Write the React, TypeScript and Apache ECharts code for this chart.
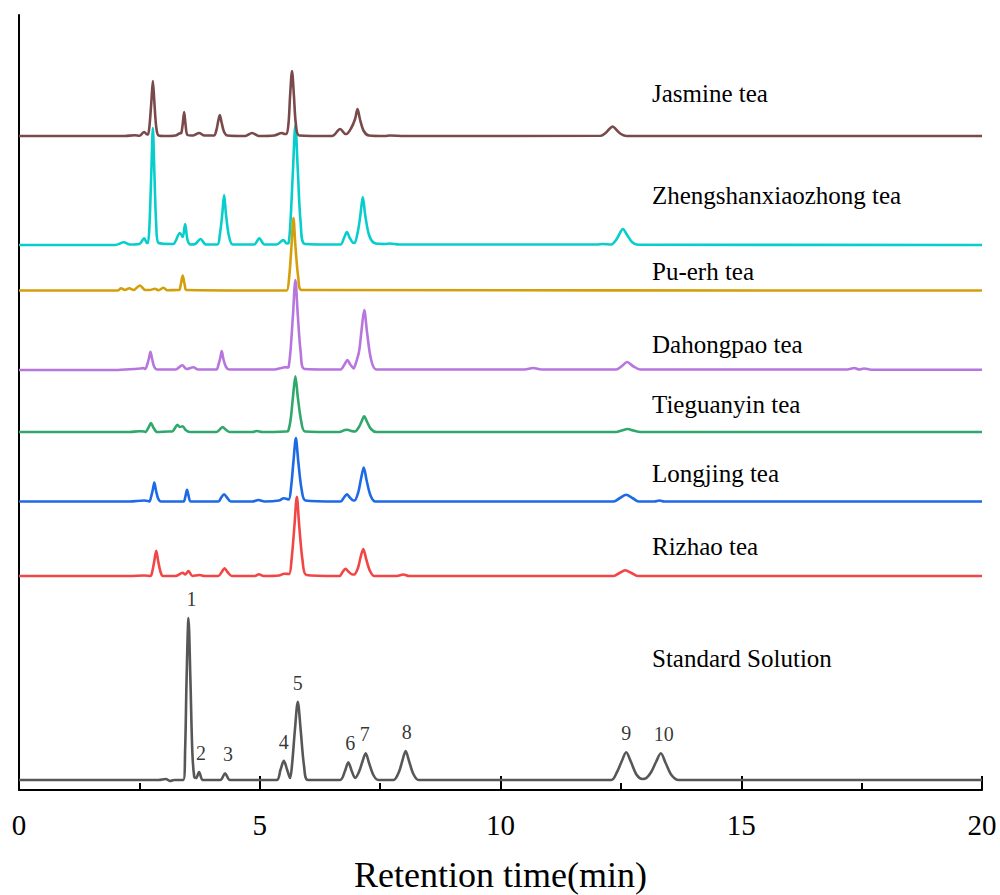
import React, { useEffect, useRef } from "react";
import * as echarts from "echarts";

// Retention time (min) vs detector response (arbitrary units, relative to each trace's baseline)
const standardSolution: [number, number][] = [
  [0, 0], [2.9, 0], [3.05, 1], [3.14, -1], [3.22, 0],
  [3.41, 0], [3.45, 30], [3.48, 100], [3.52, 162], [3.56, 100], [3.6, 28], [3.64, 3],
  [3.68, 2], [3.74, 8], [3.82, 0],
  [4.18, 0], [4.28, 6.7], [4.38, 0],
  [5.35, 0], [5.43, 10], [5.5, 19.3], [5.57, 10], [5.63, 2],
  [5.67, 15], [5.73, 50], [5.79, 78.3], [5.85, 50], [5.92, 14], [6.0, 0],
  [6.67, 0], [6.77, 9], [6.84, 17.7], [6.91, 9], [6.98, 2],
  [7.06, 8], [7.13, 18], [7.2, 26.7], [7.27, 17], [7.36, 5], [7.46, 0],
  [7.78, 0], [7.89, 8], [7.96, 19], [8.03, 29], [8.1, 19], [8.19, 6], [8.3, 0],
  [12.3, 0], [12.42, 8], [12.52, 19], [12.61, 27.7], [12.71, 18], [12.83, 5], [12.95, 1],
  [13.03, 2], [13.13, 8], [13.23, 18], [13.33, 26.7], [13.43, 17], [13.55, 5], [13.7, 0],
  [20, 0],
];

const rizhaoTea: [number, number][] = [
  [0, 0], [2.3, 0], [2.6, 0.5],
  [2.73, 0], [2.77, 5], [2.81, 15], [2.85, 25.3], [2.89, 15], [2.94, 4], [2.99, 0],
  [3.25, 0], [3.4, 3.3], [3.45, 1.5], [3.52, 5], [3.6, 0], [3.75, 1], [3.85, 0],
  [4.14, 0], [4.21, 4], [4.27, 7.7], [4.33, 4], [4.42, 0],
  [4.9, 0], [4.98, 1.8], [5.08, 0], [5.4, 0.5], [5.51, 2.3],
  [5.61, 2], [5.66, 16], [5.72, 50], [5.77, 79.3], [5.82, 50], [5.89, 15], [5.97, 1],
  [6.6, 0], [6.66, 0], [6.72, 4], [6.78, 7.3], [6.85, 4], [6.93, 1.5],
  [6.96, 1.5], [7.04, 8], [7.09, 18], [7.15, 27], [7.21, 17], [7.29, 5], [7.38, 0],
  [7.85, 0], [7.98, 1.5], [8.1, 0],
  [12.35, 0], [12.47, 3], [12.59, 5.7], [12.72, 3], [12.85, 0], [20, 0],
];

const longjingTea: [number, number][] = [
  [0, 0], [2.3, 0], [2.6, 1], [2.68, 0.5],
  [2.71, 0], [2.74, 4], [2.78, 12], [2.81, 19], [2.845, 11], [2.89, 3], [2.95, 0],
  [3.35, 0], [3.42, 0], [3.46, 6], [3.49, 11.7], [3.52, 6], [3.57, 0],
  [4.14, 0], [4.2, 4], [4.26, 7.3], [4.32, 4], [4.4, 0],
  [4.85, 0], [4.97, 1.5], [5.1, 0], [5.4, 1], [5.5, 3.3],
  [5.6, 2], [5.65, 14], [5.7, 40], [5.75, 63.4], [5.8, 40], [5.87, 12], [5.95, 1],
  [6.6, 0], [6.68, 0], [6.75, 4], [6.81, 7.3], [6.87, 4], [6.95, 1],
  [6.97, 1], [7.05, 10], [7.1, 22], [7.16, 34], [7.22, 21], [7.3, 6], [7.4, 0],
  [12.35, 0], [12.48, 3.5], [12.61, 6.7], [12.74, 3.5], [12.87, 0],
  [13.2, 0], [13.3, 1], [13.4, 0], [20, 0],
];

const tieguanyinTea: [number, number][] = [
  [0, 0], [2.3, 0], [2.5, 0.8], [2.6, 0.5],
  [2.62, 0], [2.69, 4.5], [2.74, 9], [2.79, 4.5], [2.87, 0],
  [3.12, 0.5], [3.18, 0.5], [3.24, 4], [3.29, 7.3], [3.34, 5], [3.4, 5.7], [3.46, 2], [3.55, 0],
  [4.1, 0], [4.17, 2.5], [4.23, 5], [4.29, 2.5], [4.38, 0],
  [4.85, 0], [4.94, 1], [5.05, 0], [5.55, 0.5],
  [5.59, 1], [5.64, 12], [5.69, 35], [5.74, 55.7], [5.79, 35], [5.86, 11], [5.94, 0.5],
  [6.65, 0], [6.77, 2], [6.82, 2.3], [6.9, 1],
  [6.98, 0.5], [7.06, 5], [7.11, 10], [7.17, 15.7], [7.23, 10], [7.31, 3], [7.42, 0],
  [12.4, 0], [12.52, 1.5], [12.64, 3], [12.76, 1.5], [12.9, 0], [20, 0],
];

const dahongpaoTea: [number, number][] = [
  [0, 0], [2.0, 0], [2.4, 1], [2.52, 1.5], [2.58, 2],
  [2.62, 1], [2.66, 5], [2.7, 12], [2.73, 18.3], [2.765, 11], [2.81, 3], [2.87, 0.5],
  [3.25, 0.5], [3.39, 4.7], [3.48, 1], [3.62, 2.7], [3.72, 0.5],
  [4.1, 0.5], [4.14, 5], [4.18, 12], [4.21, 19], [4.245, 11], [4.3, 3], [4.37, 0.5],
  [5.3, 0.5], [5.45, 2], [5.52, 2.7], [5.58, 2.5],
  [5.6, 3], [5.64, 20], [5.69, 55], [5.74, 90], [5.79, 55], [5.85, 18], [5.93, 1],
  [6.6, 0.5], [6.68, 0.5], [6.76, 5.5], [6.82, 10], [6.88, 5.5], [6.96, 1.5],
  [6.97, 1.5], [7.06, 18], [7.11, 38], [7.17, 60], [7.23, 37], [7.31, 11], [7.42, 0.5],
  [10.5, 0.5], [10.68, 2], [10.85, 0.5],
  [12.4, 0.5], [12.52, 4], [12.63, 8], [12.75, 4], [12.9, 0.5],
  [17.2, 0.5], [17.35, 2], [17.45, 0.5], [17.55, 1.5], [17.7, 0.3], [20, 0.3],
];

const zhengshanxiaozhongTea: [number, number][] = [
  [0, 0], [2.0, 0], [2.18, 2.7], [2.3, 0.5], [2.5, 1],
  [2.6, 6.7], [2.66, 2],
  [2.68, 2], [2.71, 20], [2.75, 75], [2.78, 117], [2.81, 75], [2.85, 20], [2.9, 2],
  [3.2, 1], [3.34, 12], [3.4, 8], [3.45, 21], [3.5, 5], [3.56, 0.5], [3.66, 1], [3.77, 6], [3.88, 0.5],
  [4.12, 0.5], [4.17, 10], [4.22, 30], [4.26, 50], [4.3, 30], [4.36, 9], [4.44, 0.5],
  [4.88, 0.5], [4.99, 6.7], [5.1, 0.5], [5.35, 0.5], [5.49, 5], [5.56, 1.5],
  [5.6, 2], [5.64, 25], [5.69, 75], [5.74, 120], [5.79, 75], [5.85, 22], [5.94, 1],
  [6.6, 0.5], [6.68, 0.5], [6.75, 7], [6.81, 13], [6.87, 7], [6.95, 2],
  [6.97, 2], [7.04, 14], [7.09, 30], [7.14, 48], [7.19, 30], [7.27, 10], [7.38, 2],
  [7.6, 1], [7.7, 1.5], [7.9, 0.5],
  [12.0, 0.5], [12.12, 1], [12.3, 0.5],
  [12.4, 5], [12.46, 10], [12.54, 16], [12.63, 10], [12.73, 3], [12.85, 0.3], [20, 0],
];

const puerhTea: [number, number][] = [
  [0, 0], [2.05, 0], [2.12, 2.3], [2.2, 0.5], [2.29, 2.3], [2.38, 0.5], [2.51, 5], [2.62, 0.5],
  [2.72, 0.5], [2.82, 1.7], [2.9, 0.3], [3.0, 2.7], [3.08, 0.3], [3.3, 0.5],
  [3.33, 0.5], [3.36, 6], [3.4, 15], [3.44, 6], [3.48, 0.5],
  [5.45, 0], [5.56, 0], [5.61, 13], [5.66, 45], [5.7, 72.5], [5.74, 45], [5.8, 13], [5.87, 0.5],
  [20, 0],
];

const jasmineTea: [number, number][] = [
  [0, 0], [2.2, 0], [2.4, 0.7], [2.5, 0.3], [2.6, 4], [2.66, 1.5],
  [2.68, 1.5], [2.71, 10], [2.75, 35], [2.78, 55], [2.81, 35], [2.85, 9], [2.9, 0.5],
  [3.05, 0], [3.25, 0.5], [3.33, 2.5],
  [3.37, 3], [3.4, 12], [3.43, 24], [3.46, 11], [3.5, 1],
  [3.62, 0.5], [3.74, 3], [3.85, 0.5],
  [4.05, 0.5], [4.1, 6], [4.13, 13], [4.17, 21], [4.21, 13], [4.26, 4], [4.33, 0.5],
  [4.7, 0], [4.84, 3], [4.98, 0], [5.3, 0.5], [5.46, 3], [5.52, 2],
  [5.56, 2], [5.6, 14], [5.63, 40], [5.67, 65], [5.71, 40], [5.75, 12], [5.82, 0.5],
  [6.5, 0], [6.67, 7], [6.78, 2],
  [6.8, 2], [6.9, 8], [6.98, 17], [7.03, 27], [7.08, 17], [7.16, 5], [7.27, 0.5],
  [7.6, 0], [7.7, 0.5], [8.0, 0],
  [12.08, 0.3], [12.18, 3], [12.26, 7], [12.33, 9.5], [12.41, 6], [12.5, 2], [12.62, 0],
  [20, 0],
];

// Traces in drawing order (bottom to top), with baseline offsets in the same units
const traceNames = [
  "Standard Solution",
  "Rizhao tea",
  "Longjing tea",
  "Tieguanyin tea",
  "Dahongpao tea",
  "Zhengshanxiaozhong tea",
  "Pu-erh tea",
  "Jasmine tea",
];
const traceData = [
  standardSolution,
  rizhaoTea,
  longjingTea,
  tieguanyinTea,
  dahongpaoTea,
  zhengshanxiaozhongTea,
  puerhTea,
  jasmineTea,
];
const baselineOffsets = [10, 214, 288.5, 358, 420, 545, 499.5, 654];

// Numbered peaks of the standard solution
const peakLabels = ["1", "2", "3", "4", "5", "6", "7", "8", "9", "10"];
const peakTimes = [3.52, 3.74, 4.28, 5.5, 5.79, 6.84, 7.2, 8.03, 12.61, 13.33];
const peakHeights = [162, 8, 6.7, 19.3, 78.3, 17.7, 26.7, 29, 27.7, 26.7];

const xTicks = [0, 5, 10, 15, 20];

// Styling (kept apart from the data)
const traceColors = [
  "#575757",
  "#F24646",
  "#1C6AE4",
  "#30A86C",
  "#B676DE",
  "#08CDCD",
  "#D3A00C",
  "#7A4A4A",
];
// pixel positions of the trace names (left x, vertical centre y)
const nameLabelY = [658, 546.5, 473, 404, 344, 195.5, 271, 93];
const nameLabelX = 652;
const peakLabelDx = [3, 2, 3, 0, 0, 2, -1, 1, 0, 3];

const SERIF = '"Liberation Serif", "Times New Roman", serif';

export default function App() {
  const ref = useRef<HTMLDivElement>(null);

  useEffect(() => {
    if (!ref.current) return;
    const chart = echarts.init(ref.current, undefined, { renderer: "svg" });

    const lineSeries = traceData.map((pts, i) => ({
      name: traceNames[i],
      type: "line",
      data: pts.map(([t, v]) => [t, v + baselineOffsets[i]]),
      showSymbol: false,
      smooth: 0.3,
      lineStyle: { color: traceColors[i], width: 2.6 },
      itemStyle: { color: traceColors[i] },
      z: 2 + i,
      silent: true,
    }));

    const peakSeries = {
      type: "scatter",
      symbolSize: 0,
      silent: true,
      z: 20,
      data: peakTimes.map((t, i) => ({
        value: [t, peakHeights[i] + baselineOffsets[0]],
        label: {
          show: true,
          formatter: peakLabels[i],
          position: "top",
          distance: 9,
          offset: [peakLabelDx[i], 0],
          fontSize: 20,
          fontFamily: SERIF,
          color: "#000",
        },
      })),
    };

    chart.setOption({
      animation: false,
      grid: {
        left: 19,
        right: 18,
        top: 15,
        bottom: 105,
        containLabel: false,
        outerBoundsMode: "none",
      },
      xAxis: {
        type: "value",
        min: xTicks[0],
        max: xTicks[xTicks.length - 1],
        interval: xTicks[1] - xTicks[0],
        name: "Retention time(min)",
        nameLocation: "middle",
        nameGap: 67,
        nameTextStyle: { fontSize: 36, fontFamily: SERIF, color: "#000" },
        axisLine: { show: true, lineStyle: { color: "#000", width: 2 } },
        axisTick: { show: true, inside: true, length: 14, lineStyle: { color: "#000", width: 2 } },
        minorTick: { show: true, splitNumber: 2, length: 7, lineStyle: { color: "#000", width: 2 } },
        axisLabel: { fontSize: 29, fontFamily: SERIF, color: "#000", margin: 20 },
        splitLine: { show: false },
      },
      yAxis: {
        type: "value",
        min: 0,
        max: 775,
        axisLine: { show: true, lineStyle: { color: "#000", width: 2 } },
        axisTick: { show: false },
        axisLabel: { show: false },
        splitLine: { show: false },
      },
      graphic: traceNames.map((n, i) => ({
        type: "text",
        x: nameLabelX,
        y: nameLabelY[i],
        silent: true,
        style: {
          text: n,
          fill: "#000",
          font: `25px ${SERIF}`,
          align: "left",
          verticalAlign: "middle",
        },
      })),
      series: [...lineSeries, peakSeries],
    });

    return () => chart.dispose();
  }, []);

  return (
    <div
      ref={ref}
      style={{ position: "absolute", left: 0, top: 0, width: 1000, height: 895, background: "#fff" }}
    />
  );
}
